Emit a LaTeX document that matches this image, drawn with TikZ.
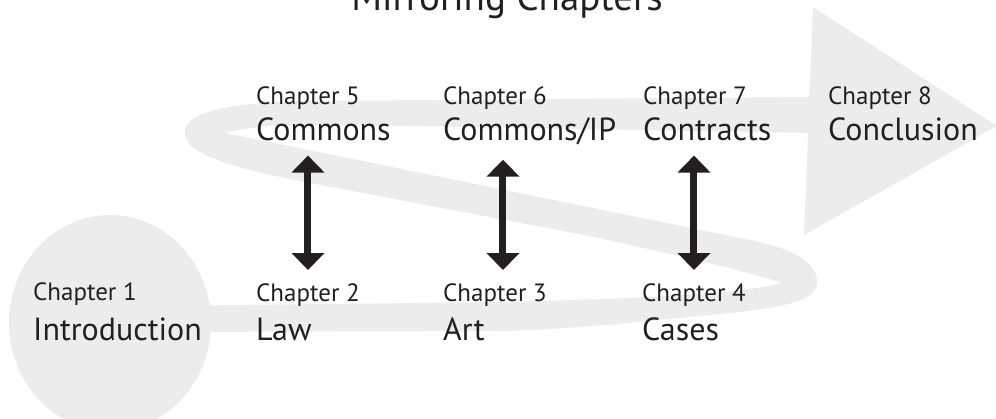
\documentclass[tikz,border=0pt]{standalone}
\usepackage{fontspec}
\setmainfont{PT Sans}
\usepackage{tikz}
\usetikzlibrary{positioning,arrows.meta}
\definecolor{inkblack}{RGB}{35,31,32}
\definecolor{bandgrey}{RGB}{236,236,236}

\begin{document}
\begin{tikzpicture}[x=1pt,y=-1pt]
 \tikzset{band/.style={fill=bandgrey},
  chapno/.style={anchor=base west,inner sep=0pt,text=inkblack,font=\fontsize{25}{29}\selectfont},
  chapname/.style={anchor=base west,inner sep=0pt,text=inkblack,font=\fontsize{32}{37}\selectfont},
  heading/.style={anchor=base,inner sep=0pt,text=inkblack,font=\fontsize{39}{45}\selectfont},
  mirror/.style={inkblack,line width=7pt,{Triangle[width=32pt,length=17pt]}-{Triangle[width=32pt,length=17pt]},shorten <=13pt,shorten >=15pt}}
 \clip (0,0) rectangle (996,418);

 % the stroke: out from the circle, back, and up to the big arrowhead
 \fill[band] (160,306) -- (500,302)
   .. controls (630,299) and (740,294) .. (782,283)
   .. controls (730,266) and (650,250) .. (600,238)
   -- (300,181)
   .. controls (210,163) and (185,150) .. (185,132)
   .. controls (185,112) and (230,103) .. (300,101)
   -- (813,97) -- (813,133) -- (350,125)
   .. controls (280,124) and (245,127) .. (225,133)
   -- (750,240)
   .. controls (800,250) and (817,265) .. (817,282)
   .. controls (817,300) and (790,307) .. (720,314)
   .. controls (640,322) and (560,330) .. (500,331)
   -- (160,332) -- cycle;
 \fill[band] (110,323) ellipse [x radius=101,y radius=108];
 \fill[band] (813,7) -- (997,126) -- (804,235) -- cycle;

 \node[heading] (head) at (507,10) {Mirroring Chapters};

 \node[chapno] (c1) at (33,300) {Chapter 1};
 \node[chapname] (n1) at (33,340) {Introduction};
 \node[chapno] (c2) at (256,301) {Chapter 2};
 \node[chapname] (n2) at (256,340) {Law};
 \node[chapno] (c3) at (443,301) {Chapter 3};
 \node[chapname] (n3) at (443,340) {Art};
 \node[chapno] (c4) at (642,301) {Chapter 4};
 \node[chapname] (n4) at (642,340) {Cases};

 \node[chapno] (c5) at (256,104) {Chapter 5};
 \node[chapname] (n5) at (256,140) {Commons};
 \node[chapno] (c6) at (443,104) {Chapter 6};
 \node[chapname] (n6) at (443,140) {Commons/IP};
 \node[chapno] (c7) at (643,104) {Chapter 7};
 \node[chapname] (n7) at (643,140) {Contracts};
 \node[chapno] (c8) at (828,104) {Chapter 8};
 \node[chapname] (n8) at (828,140) {Conclusion};

 \draw[mirror] (c2.north) -- (c2.north |- n5.south);
 \draw[mirror] ([xshift=8pt]c3.north) -- ([xshift=8pt]c3.north |- n6.south);
 \draw[mirror] (c4.north) -- (c4.north |- n7.south);
\end{tikzpicture}
\end{document}
